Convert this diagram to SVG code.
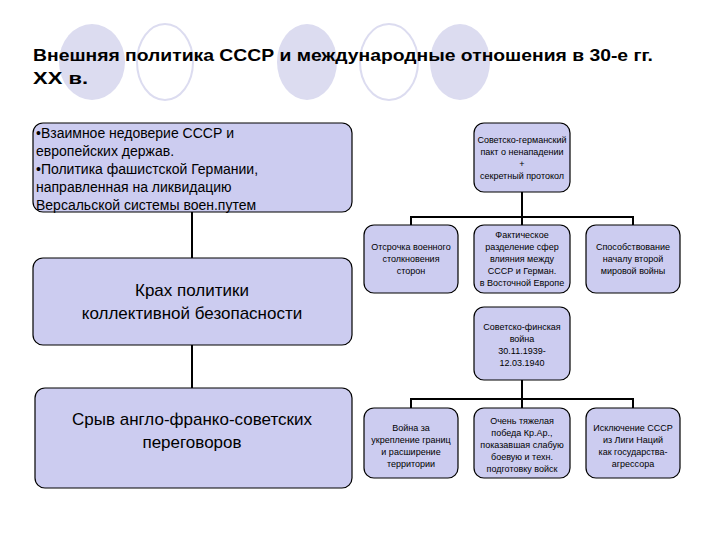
<svg xmlns="http://www.w3.org/2000/svg" width="720" height="540" viewBox="0 0 720 540">
<style>
.b{fill:#ccccf0;stroke:#000;stroke-width:1.2}
.s{font-family:"Liberation Sans",Arial,sans-serif;font-size:9px;text-anchor:middle}
.m{font-family:"Liberation Sans",Arial,sans-serif;font-size:14px}
.l{font-family:"Liberation Sans",Arial,sans-serif;font-size:17px;text-anchor:middle}
.c{stroke:#000;stroke-width:2;fill:none}
</style>
<rect width="720" height="540" fill="#fff"/>
<g id="deco">
<ellipse cx="92" cy="62" rx="33" ry="38" fill="#dcdcf0"/>
<ellipse cx="165" cy="62" rx="28" ry="38" fill="none" stroke="#dcdcf0" stroke-width="2"/>
<ellipse cx="307" cy="62" rx="30" ry="38" fill="#dcdcf0"/>
<ellipse cx="389" cy="62" rx="29" ry="38" fill="none" stroke="#dcdcf0" stroke-width="2"/>
<ellipse cx="460" cy="62" rx="30" ry="38" fill="#dcdcf0"/>
</g>
<g id="title" font-family="Liberation Sans,Arial,sans-serif" font-size="17" font-weight="bold">
<text x="33" y="61" textLength="620" lengthAdjust="spacingAndGlyphs">Внешняя политика СССР и международные отношения в 30-е гг.</text>
<text x="33" y="84" textLength="55" lengthAdjust="spacingAndGlyphs">XX в.</text>
</g>
<g id="connectors">
<line class="c" x1="192" y1="212" x2="192" y2="258"/>
<line class="c" x1="192" y1="345" x2="192" y2="388"/>
<path class="c" d="M522 192V217M411 225V217H633V225M522 217V225"/>
<path class="c" d="M522 380V399M411 408V399H633V408M522 399V408"/>
</g>
<g id="n1"><rect class="b" x="33" y="123" width="319" height="89" rx="10"/>
<text class="m" x="36" y="138">•Взаимное недоверие СССР и</text>
<text class="m" x="36" y="156">европейских держав.</text>
<text class="m" x="36" y="174">•Политика фашистской Германии,</text>
<text class="m" x="36" y="192">направленная на ликвидацию</text>
<text class="m" x="36" y="210">Версальской системы воен.путем</text></g>
<g id="n2"><rect class="b" x="33" y="258" width="319" height="87" rx="10"/>
<text class="l" x="192" y="296">Крах политики</text>
<text class="l" x="192" y="319">коллективной безопасности</text></g>
<g id="n3"><rect class="b" x="35" y="388" width="317" height="100" rx="10"/>
<text class="l" x="192" y="425">Срыв англо-франко-советских</text>
<text class="l" x="192" y="448">переговоров</text></g>
<g id="n4"><rect class="b" x="474" y="123" width="96" height="69" rx="10"/>
<text class="s" x="522" y="143">Советско-германский</text><text class="s" x="522" y="155">пакт о ненападении</text><text class="s" x="522" y="167">+</text><text class="s" x="522" y="179">секретный протокол</text></g>
<g id="n5"><rect class="b" x="364" y="225" width="94" height="68" rx="10"/>
<text class="s" x="411" y="250">Отсрочка военного</text><text class="s" x="411" y="262">столкновения</text><text class="s" x="411" y="274">сторон</text></g>
<g id="n6"><rect class="b" x="474" y="225" width="96" height="68" rx="10"/>
<text class="s" x="522" y="238">Фактическое</text><text class="s" x="522" y="250">разделение сфер</text><text class="s" x="522" y="262">влияния между</text><text class="s" x="522" y="274">СССР и Герман.</text><text class="s" x="522" y="286">в Восточной Европе</text></g>
<g id="n7"><rect class="b" x="586" y="225" width="94" height="68" rx="10"/>
<text class="s" x="633" y="250">Способствование</text><text class="s" x="633" y="262">началу второй</text><text class="s" x="633" y="274">мировой войны</text></g>
<g id="n8"><rect class="b" x="474" y="307" width="96" height="73" rx="10"/>
<text class="s" x="522" y="330">Советско-финская</text><text class="s" x="522" y="342">война</text><text class="s" x="522" y="354">30.11.1939-</text><text class="s" x="522" y="366">12.03.1940</text></g>
<g id="n9"><rect class="b" x="364" y="408" width="94" height="70" rx="10"/>
<text class="s" x="411" y="431">Война за</text><text class="s" x="411" y="443">укрепление границ</text><text class="s" x="411" y="455">и расширение</text><text class="s" x="411" y="467">территории</text></g>
<g id="n10"><rect class="b" x="474" y="408" width="96" height="70" rx="10"/>
<text class="s" x="522" y="424">Очень тяжелая</text><text class="s" x="522" y="436">победа Кр.Ар.,</text><text class="s" x="522" y="448">показавшая слабую</text><text class="s" x="522" y="460">боевую и техн.</text><text class="s" x="522" y="472">подготовку войск</text></g>
<g id="n11"><rect class="b" x="586" y="408" width="94" height="70" rx="10"/>
<text class="s" x="633" y="431">Исключение СССР</text><text class="s" x="633" y="443">из Лиги Наций</text><text class="s" x="633" y="455">как государства-</text><text class="s" x="633" y="467">агрессора</text></g>
</svg>
